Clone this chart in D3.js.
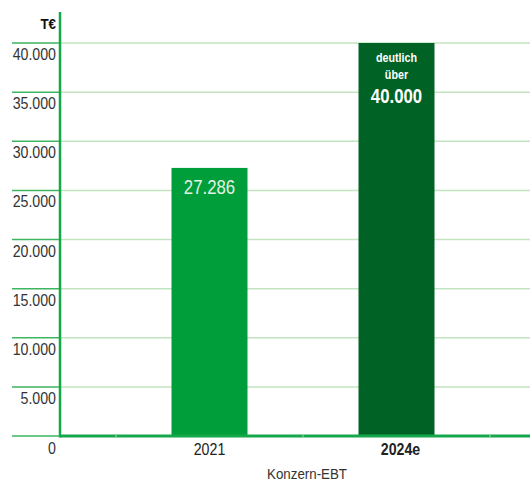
<!DOCTYPE html>
<html>
<head>
<meta charset="utf-8">
<script src="https://cdn.jsdelivr.net/npm/d3@7"></script>
<style>
  body { margin: 0; background: #fff; }
  text { font-family: "Liberation Sans", Arial, sans-serif; }
</style>
</head>
<body>
<div id="chart"></div>
<script>

var categories = ["2021", "2024e"];
var values = [27286, 40000];
var barLabels = [["27.286"], ["deutlich", "über", "40.000"]];
var yTicks = [0, 5000, 10000, 15000, 20000, 25000, 30000, 35000, 40000];
var unitLabel = "T€";
var axisTitle = "Konzern-EBT";

var width = 530, height = 481;
var barColors = ["#009e3b", "#006325"];
var narrow = 0.86; // condensed look

var svg = d3.select("#chart")
            .append("svg")
            .attr("width", width)
            .attr("height", height);

var y = d3.scaleLinear()
          .domain([0, 40000])
          .range([436, 43]);

var x = d3.scaleBand()
          .domain(categories)
          .range([116, 490]);

var fmt = function(d){
  return d3.format(",")(d).replace(/,/g, ".");
};

function place(px, py){
  return "translate(" + px + "," + py + ") scale(" + narrow + ",1)";
}

// gridlines, left part darker, right part lighter
var grid = svg.append("g");
grid.selectAll("line.left")
  .data(yTicks)
  .enter()
  .append("line")
  .attr("x1", 12)
  .attr("x2", 60)
  .attr("y1", function(d){ return y(d); })
  .attr("y2", function(d){ return y(d); })
  .style("stroke", "#3db561")
  .style("stroke-width", 1.5);

grid.selectAll("line.right")
  .data(yTicks.filter(function(d){ return d > 0; }))
  .enter()
  .append("line")
  .attr("x1", 60)
  .attr("x2", width)
  .attr("y1", function(d){ return y(d); })
  .attr("y2", function(d){ return y(d); })
  .style("stroke", "#c3e4c1")
  .style("stroke-width", 1.5);

// tick labels
svg.append("g").selectAll("text")
  .data(yTicks)
  .enter()
  .append("text")
  .attr("transform", function(d){ return place(56, y(d) + (d === 0 ? 18 : 17)); })
  .attr("text-anchor", "end")
  .attr("font-size", "16.5px")
  .style("fill", "#333")
  .text(function(d){ return fmt(d); });

// bars
var barW = 76;
svg.append("g").selectAll("rect")
  .data(values)
  .enter()
  .append("rect")
  .attr("x", function(d,i){ return x(categories[i]) + x.bandwidth()/2 - barW/2; })
  .attr("y", function(d){ return y(d); })
  .attr("width", barW)
  .attr("height", function(d){ return y(0) - y(d); })
  .style("fill", function(d,i){ return barColors[i]; });

// bar value labels
var cx0 = x(categories[0]) + x.bandwidth()/2;
svg.append("text")
  .attr("transform", place(cx0, y(values[0]) + 26))
  .attr("text-anchor", "middle")
  .attr("font-size", "19.5px")
  .style("fill", "#e3f3e3")
  .text(barLabels[0][0]);

var cx1 = x(categories[1]) + x.bandwidth()/2;
var lbl = svg.append("g");
lbl.append("text")
  .attr("transform", place(cx1, y(values[1]) + 19))
  .attr("text-anchor", "middle")
  .attr("font-size", "12.5px").attr("font-weight", "bold")
  .style("fill", "#fff")
  .text(barLabels[1][0]);
lbl.append("text")
  .attr("transform", place(cx1, y(values[1]) + 36))
  .attr("text-anchor", "middle")
  .attr("font-size", "12.5px").attr("font-weight", "bold")
  .style("fill", "#fff")
  .text(barLabels[1][1]);
lbl.append("text")
  .attr("transform", place(cx1, y(values[1]) + 60))
  .attr("text-anchor", "middle")
  .attr("font-size", "19.5px").attr("font-weight", "bold")
  .style("fill", "#fff")
  .text(barLabels[1][2]);

// baseline and y axis
svg.append("line")
  .attr("x1", 60).attr("x2", width)
  .attr("y1", y(0)).attr("y2", y(0))
  .style("stroke", "#14a84a")
  .style("stroke-width", 3);

svg.append("g").selectAll("line")
  .data(x.domain().map(function(d){ return x(d); }).concat([x.range()[1]]))
  .enter()
  .append("line")
  .attr("x1", function(d){ return d; })
  .attr("x2", function(d){ return d; })
  .attr("y1", y(0) - 1.5).attr("y2", y(0) + 1.5)
  .style("stroke", "#9fd8ae")
  .style("stroke-width", 1);

svg.append("line")
  .attr("x1", 60).attr("x2", 60)
  .attr("y1", 12).attr("y2", y(0) + 1.5)
  .style("stroke", "#14a84a")
  .style("stroke-width", 2.5);

svg.append("text")
  .attr("transform", place(56, 29))
  .attr("text-anchor", "end")
  .attr("font-size", "15.5px").attr("font-weight", "bold")
  .style("fill", "#111")
  .text(unitLabel);

// category labels
svg.append("g").selectAll("text")
  .data(categories)
  .enter()
  .append("text")
  .attr("transform", function(d,i){ return place(x(d) + x.bandwidth()/2 + (i === 1 ? 4 : 0), 455); })
  .attr("text-anchor", "middle")
  .attr("font-size", "16.5px")
  .attr("font-weight", function(d,i){ return i === 1 ? "bold" : "normal"; })
  .style("fill", "#222")
  .text(function(d){ return d; });

svg.append("text")
  .attr("transform", place(307, 479))
  .attr("text-anchor", "middle")
  .attr("font-size", "15.5px")
  .style("fill", "#333")
  .text(axisTitle);

</script>
</body>
</html>
